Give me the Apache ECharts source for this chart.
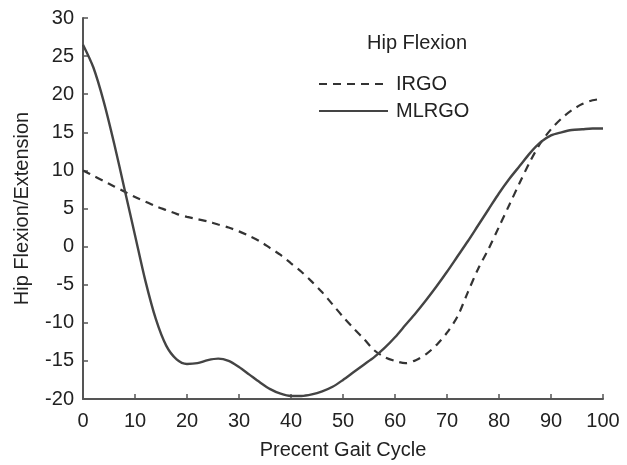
<!DOCTYPE html>
<html>
<head>
<meta charset="utf-8">
<script src="https://cdn.jsdelivr.net/npm/echarts@6/dist/echarts.min.js"></script>
<style>
html,body{margin:0;padding:0;background:#fff;}
#c{width:627px;height:465px;}
</style>
</head>
<body>
<div id="c"></div>
<script>
var gaitX = [0,2,4,6,8,10,12,14,16,18,20,22,24,26,28,30,32,34,36,38,40,42,44,46,48,50,52,54,56,58,60,62,64,66,68,70,72,74,76,78,80,82,84,86,88,90,92,94,96,98,100];
var mlrgo = [26.5,23.5,19,13.5,7.5,1.5,-4.5,-9.5,-13,-14.8,-15.4,-15.3,-14.9,-14.7,-15.0,-15.8,-16.8,-17.8,-18.7,-19.3,-19.6,-19.6,-19.4,-19.0,-18.4,-17.5,-16.5,-15.5,-14.5,-13.3,-11.9,-10.3,-8.7,-7.0,-5.2,-3.3,-1.3,0.7,2.8,4.9,7.0,8.9,10.6,12.3,13.7,14.6,15.0,15.3,15.4,15.5,15.5];
var irgo = [10.0,9.3,8.6,7.9,7.2,6.5,5.9,5.3,4.8,4.3,3.9,3.6,3.3,2.9,2.5,2.0,1.4,0.7,-0.2,-1.1,-2.2,-3.3,-4.6,-6.0,-7.6,-9.2,-10.7,-12.1,-13.6,-14.5,-15.0,-15.3,-14.9,-14.1,-12.9,-11.3,-9.2,-6.0,-2.9,-0.3,2.6,5.5,8.4,11.2,13.6,15.4,16.8,17.9,18.7,19.2,19.4];
var seriesNames = ['IRGO','MLRGO'];
var chartTitle = 'Hip Flexion';
var xName = 'Precent Gait Cycle';
var yName = 'Hip Flexion/Extension';

function pairs(xs, ys){ return xs.map(function(x,i){ return [x, ys[i]]; }); }

var chart = echarts.init(document.getElementById('c'), null, {renderer:'canvas'});
var font = 'Liberation Sans, Arial, sans-serif';
chart.setOption({
  animation:false,
  backgroundColor:'#fff',
  title:{text:chartTitle, left:362, top:28, textStyle:{fontFamily:font, fontSize:20, fontWeight:'normal', color:'#222'}},
  legend:{
    orient:'vertical', left:313, top:69, itemWidth:69, itemHeight:22, itemGap:7,
    data:seriesNames,
    itemStyle:{opacity:0},
    textStyle:{fontFamily:font, fontSize:20, color:'#222', padding:[0,0,0,3]}
  },
  grid:{left:83, right:24, top:18, bottom:63, containLabel:false},
  xAxis:{
    type:'value', min:0, max:100, interval:10,
    name:xName, nameLocation:'middle', nameGap:41,
    nameTextStyle:{fontFamily:font, fontSize:20, color:'#222'},
    axisLine:{show:true, onZero:false, lineStyle:{color:'#555', width:2}},
    axisTick:{show:true, inside:true, length:5, lineStyle:{color:'#555', width:1.5}},
    axisLabel:{fontFamily:font, fontSize:20, color:'#222', margin:12},
    splitLine:{show:false}
  },
  yAxis:{
    type:'value', min:-20, max:30, interval:5,
    name:yName, nameLocation:'middle', nameGap:51,
    nameTextStyle:{fontFamily:font, fontSize:20, color:'#222'},
    axisLine:{show:true, lineStyle:{color:'#555', width:2}},
    axisTick:{show:true, inside:true, length:5, lineStyle:{color:'#555', width:1.5}},
    axisLabel:{fontFamily:font, fontSize:20, color:'#222', margin:9},
    splitLine:{show:false}
  },
  series:[
    {name:seriesNames[0], type:'line', smooth:0.3, symbol:'none', data:pairs(gaitX, irgo),
     lineStyle:{color:'#333', width:2.2, type:[8,6]}, itemStyle:{color:'#333'}},
    {name:seriesNames[1], type:'line', smooth:0.3, symbol:'none', data:pairs(gaitX, mlrgo),
     lineStyle:{color:'#444', width:2.4, type:'solid'}, itemStyle:{color:'#444'}}
  ]
});
</script>
</body>
</html>
